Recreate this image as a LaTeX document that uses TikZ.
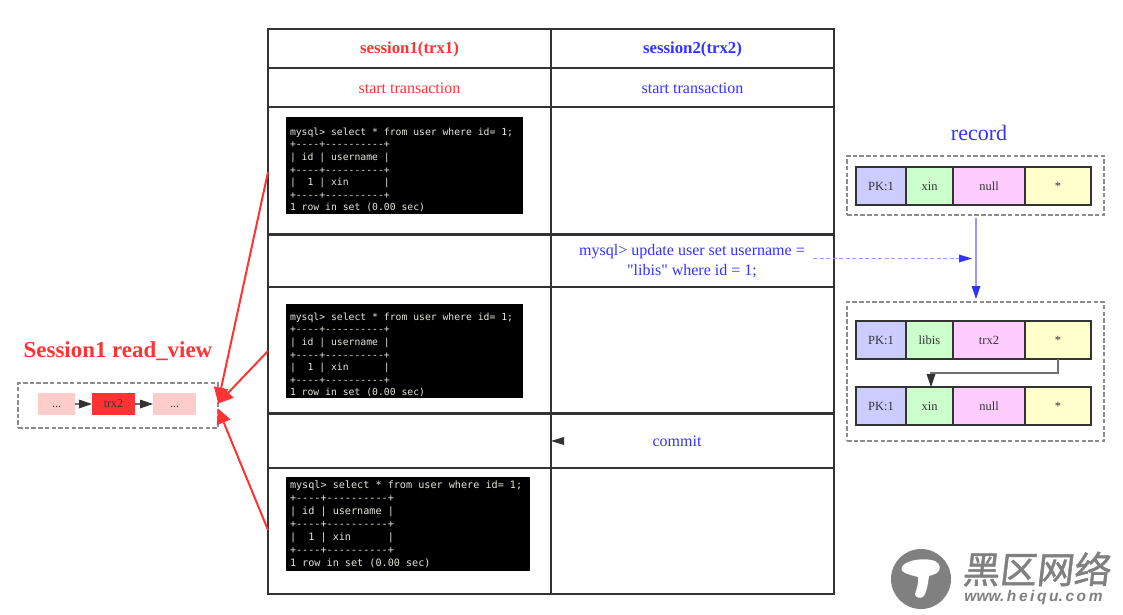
\documentclass[tikz,border=0pt]{standalone}
\usepackage{fontspec}
\setmainfont{Liberation Serif}
\setmonofont{DejaVu Sans Mono}
\newfontfamily\cjkfont[FakeSlant=0.12,FakeBold=1.2]{Noto Sans CJK SC}
\newfontfamily\wmfont{Liberation Sans}
\newfontfamily\qfont{Liberation Serif}
\usetikzlibrary{arrows.meta}
\definecolor{ink}{HTML}{333333}
\definecolor{redc}{HTML}{FF3333}
\definecolor{bluec}{HTML}{3333FF}
\definecolor{bluel}{HTML}{9999FF}
\definecolor{pinkc}{HTML}{FFCCCC}
\definecolor{lavc}{HTML}{CCCCFF}
\definecolor{grnc}{HTML}{CCFFCC}
\definecolor{magc}{HTML}{FFCCFF}
\definecolor{yelc}{HTML}{FFFFCC}
\definecolor{termc}{HTML}{E6E6DC}
\definecolor{dashc}{HTML}{8C8C8C}
\definecolor{wmc}{HTML}{808080}
\tikzset{
  base/.style={rectangle,inner sep=0pt,outer sep=0pt,align=center},
  cell/.style={base,draw=ink,line width=2pt},
  rec/.style={base,draw=ink,line width=2pt,text=ink,font=\fontsize{12.5}{15}\selectfont},
  dashbox/.style={base,draw=dashc,line width=1.5pt,dash pattern=on 4.5pt off 2.2pt},
  term/.style={base,fill=black},
  termtext/.style={base,anchor=west,align=left,text=termc},
  vb/.style={base,text=ink,text height=10pt,text depth=3pt,font=\fontsize{12}{14}\selectfont},
  redarrow/.style={draw=redc,line width=2pt,-{Triangle[length=15pt,width=15pt,color=redc,fill=redc,line width=0pt]}},
  darkarrow/.style={draw=ink!70,line width=1.3pt,-{Triangle[length=13pt,width=9pt,color=ink,fill=ink,line width=0pt]}},
  bluetext/.style={base,text=bluec,font=\fontsize{16}{20}\selectfont},
  redtext/.style={base,text=redc,font=\fontsize{16}{20}\selectfont},
  headtext/.style={base,font=\fontsize{16.8}{20}\selectfont\bfseries}
}
\newcommand{\bx}[6][]{% style,name,x1,y1,x2,y2 then text
  \pgfmathsetmacro{\bxw}{#5-#3}\pgfmathsetmacro{\bxh}{#6-#4}
  \pgfmathsetmacro{\bxx}{(#3+#5)/2}\pgfmathsetmacro{\bxy}{(#4+#6)/2}
  \node[#1,minimum width=\bxw pt,minimum height=\bxh pt] (#2) at (\bxx,\bxy)}
\newcommand{\termlines}{mysql> select * from user where id= 1;\\
+----+----------+\\
| id | username |\\
+----+----------+\\
|~~1 | xin~~~~~~|\\
+----+----------+\\
1 row in set (0.00 sec)}
\begin{document}
\begin{tikzpicture}[x=1pt,y=-1pt]
\useasboundingbox[fill=white] (0,0) rectangle (1123,614);
% table
\bx[cell]{h1}{268}{29}{551}{68} {};
\bx[cell]{h2}{551}{29}{834}{68} {};
\bx[cell]{s1}{268}{68}{551}{107} {};
\bx[cell]{s2}{551}{68}{834}{107} {};
\bx[cell]{a1}{268}{107}{551}{233.5} {};
\bx[cell]{a2}{551}{107}{834}{233.5} {};
\bx[cell]{b1}{268}{234.5}{551}{287} {};
\bx[cell]{b2}{551}{234.5}{834}{287} {};
\bx[cell]{c1}{268}{287}{551}{412.5} {};
\bx[cell]{c2}{551}{287}{834}{412.5} {};
\bx[cell]{d1}{268}{413.5}{551}{468} {};
\bx[cell]{d2}{551}{413.5}{834}{468} {};
\bx[cell]{e1}{268}{468}{551}{594} {};
\bx[cell]{e2}{551}{468}{834}{594} {};
\node[headtext,text=redc] (h1t) at (409.5,49) {session1(trx1)};
\node[headtext,text=bluec] (h2t) at (692.5,49) {session2(trx2)};
\node[redtext] (s1t) at (409.5,88) {start transaction};
\node[bluetext] (s2t) at (692.5,88) {start transaction};
\node[bluetext,font=\fontsize{16}{20}\qfont] (b2t) at (692,261.5) {mysql> update user set username =\\"libis" where id = 1;};
\node[bluetext] (commit) at (677,441) {commit};
% terminals
\bx[term]{t1}{286}{117}{523}{214} {};
\bx[term]{t2}{286}{304}{523}{398} {};
\bx[term]{t3}{286}{477}{530}{571} {};
\node[termtext,font=\fontsize{9.75}{12.55}\ttfamily] (tx1) at (290,170) {\termlines};
\node[termtext,font=\fontsize{9.75}{12.6}\ttfamily] (tx2) at (290,355) {\termlines};
\node[termtext,font=\fontsize{10.15}{13}\ttfamily] (tx3) at (290,524) {\termlines};
% read view
\node[base,text=redc,font=\fontsize{22.9}{26}\selectfont\bfseries] (vt) at (118,351.5) {Session1 read\_view};
\bx[dashbox]{view}{18}{383}{218}{428} {};
\bx[vb,fill=pinkc]{v1}{38}{393}{75}{415} {...};
\bx[vb,fill=redc]{v2}{92}{393}{135}{415} {trx2};
\bx[vb,fill=pinkc]{v3}{153}{393}{196}{415} {...};
\draw[darkarrow] (v1) -- (v2);
\draw[darkarrow] (v2) -- (v3);
% red arrows
\coordinate (fa) at (268,172);
\coordinate (fc) at (268,351);
\coordinate (fe) at (268,530);
\draw[redarrow] (fa) -- ([yshift=3pt]view.east);
\draw[redarrow] (fc) -- ([yshift=2pt]view.east);
\draw[redarrow] (fe) -- ([yshift=-3pt]view.east);
% record
\node[base,text=bluec,font=\fontsize{22}{26}\selectfont] (rt) at (979,133) {record};
\bx[dashbox]{r1}{847}{156}{1104}{215} {};
\bx[dashbox]{r2}{847}{302}{1104}{441} {};
\bx[rec,fill=lavc]{p1}{856}{167}{906}{205} {PK:1};
\bx[rec,fill=grnc]{q1}{906}{167}{953}{205} {xin};
\bx[rec,fill=magc]{u1}{953}{167}{1025}{205} {null};
\bx[rec,fill=yelc]{w1}{1025}{167}{1091}{205} {*};
\bx[rec,fill=lavc]{p2}{856}{321}{906}{359} {PK:1};
\bx[rec,fill=grnc]{q2}{906}{321}{953}{359} {libis};
\bx[rec,fill=magc]{u2}{953}{321}{1025}{359} {trx2};
\bx[rec,fill=yelc]{w2}{1025}{321}{1091}{359} {*};
\bx[rec,fill=lavc]{p3}{856}{387}{906}{425} {PK:1};
\bx[rec,fill=grnc]{q3}{906}{387}{953}{425} {xin};
\bx[rec,fill=magc]{u3}{953}{387}{1025}{425} {null};
\bx[rec,fill=yelc]{w3}{1025}{387}{1091}{425} {*};
% connectors
\coordinate (rtop) at (976,218);
\coordinate (rbot) at (976,299);
\draw[draw=bluel,line width=1.6pt,-{Triangle[length=13pt,width=9pt,color=bluec,fill=bluec,line width=0pt]}] (rtop) -- (rbot);
\coordinate (dstart) at (813,258.5);
\coordinate (dend) at (972,258.5);
\draw[draw=bluel,line width=1.6pt,dash pattern=on 4pt off 2.5pt,-{Triangle[length=13pt,width=8pt,color=bluec,fill=bluec,line width=0pt]}] (dstart) -- (dend);
\coordinate (kink) at (931,373);
\coordinate (qin) at (931,387);
\draw[draw=ink!70,line width=1.1pt,-{Triangle[length=13pt,width=9pt,color=ink,fill=ink,line width=0pt]}] (w2.south) |- (kink) -- (qin);
\coordinate (cstart) at (564,441);
\draw[draw=ink,line width=1pt,-{Triangle[length=13pt,width=8pt,color=ink,fill=ink,line width=0pt]}] (cstart) -- (d2.west |- cstart);
% watermark
\fill[wmc] (921,579) circle (30);
\fill[white] (902,567) .. controls (905,560) and (925,557) .. (935,561)
  .. controls (941,564) and (941,570) .. (937,573)
  .. controls (934,575) and (931,575) .. (929,576)
  .. controls (928,583) and (927,591) .. (924,596)
  .. controls (921,599) and (915,598) .. (915,594)
  .. controls (917,588) and (919,582) .. (918,577)
  .. controls (911,575) and (899,573) .. (902,567) -- cycle;
\node[base,text=wmc,font=\fontsize{37}{40}\cjkfont] (wm) at (1036,569) {黑区网络};
\node[base,text=wmc,font=\fontsize{15.5}{18}\wmfont\itshape\bfseries] (wu) at (1033.5,597) {www.\,h\,e\,i\,q\,u.\,c\,o\,m};
\end{tikzpicture}
\end{document}
